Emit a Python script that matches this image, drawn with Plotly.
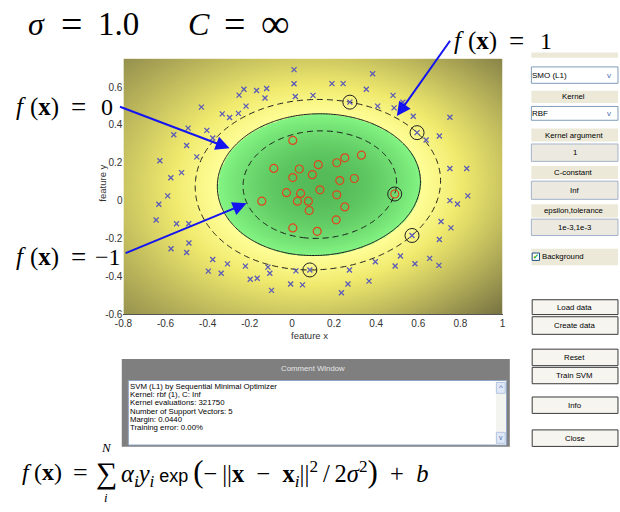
import numpy as np
import plotly.graph_objects as go

W, H = 620, 512

# ---------------- training data ----------------
# class +1 (crosses)
pos_x = [0.010, 0.010, 0.383, 0.190, 0.243, -0.251, -0.228, -0.168, -0.120, -0.128,
         0.016, 0.100, 0.353, -0.430, -0.218, -0.331, -0.296, -0.254, 0.480, 0.407,
         0.485, 0.275, 0.576, 0.750, -0.493, -0.561, -0.404, -0.376, -0.500, -0.452,
         -0.627, 0.594, 0.637, 0.700, -0.524, -0.575, -0.590, -0.632, -0.645, -0.548,
         -0.490, 0.750, 0.830, 0.750, 0.786, 0.835, 0.708, 0.755, 0.700, 0.570,
         -0.489, -0.574, -0.500, -0.376, -0.306, -0.397, -0.336, -0.221, -0.114, -0.105,
         -0.198, -0.165, -0.097, -0.006, 0.019, 0.050, 0.085, 0.273, 0.266, 0.235,
         0.366, 0.396, 0.490, 0.515, 0.584, 0.654, 0.698, 0.527]
pos_y = [0.692, 0.617, 0.670, 0.618, 0.618, 0.557, 0.588, 0.582, 0.592, 0.542,
         0.550, 0.556, 0.588, 0.494, 0.499, 0.458, 0.439, 0.461, 0.556, 0.499,
         0.490, 0.520, 0.446, 0.440, 0.383, 0.348, 0.371, 0.331, 0.291, 0.231,
         0.211, 0.359, 0.320, 0.341, 0.148, 0.121, 0.025, -0.019, -0.102, -0.122,
         -0.122, 0.170, 0.170, 0.000, -0.018, 0.025, -0.110, -0.144, -0.205, -0.184,
         -0.224, -0.254, -0.274, -0.311, -0.334, -0.372, -0.383, -0.346, -0.351, -0.383,
         -0.415, -0.410, -0.474, -0.440, -0.371, -0.445, -0.366, -0.366, -0.440, -0.486,
         -0.425, -0.323, -0.345, -0.292, -0.333, -0.305, -0.342, 0.520]

# class -1 (circles)
neg_x = [0.004, -0.086, 0.035, 0.004, 0.097, 0.125, 0.213, 0.251, 0.330, 0.227,
         0.296, 0.133, -0.026, 0.041, 0.026, 0.078, 0.213, -0.143, 0.082, 0.251,
         0.210, 0.004, 0.120, 0.488]
neg_y = [0.318, 0.170, 0.167, 0.122, 0.137, 0.190, 0.200, 0.226, 0.240, 0.106,
         0.117, 0.057, 0.042, 0.038, -0.003, -0.003, 0.031, -0.003, -0.052, -0.033,
         -0.101, -0.144, -0.162, 0.035]

# support vectors and their labels
sv_x = [0.275, 0.594, 0.488, 0.570, 0.085]
sv_y = [0.520, 0.359, 0.035, -0.184, -0.366]
sv_lab = [1, 1, -1, 1, 1]
sigma = 1.0

# ---------------- decision function ----------------
S = np.column_stack([sv_x, sv_y])
yl = np.array(sv_lab, dtype=float)
d2 = ((S[:, None, :] - S[None, :, :]) ** 2).sum(-1)
K = np.exp(-d2 / (2 * sigma ** 2))
n = len(S)
A = np.zeros((n + 1, n + 1))
A[:n, :n] = K
A[:n, n] = 1.0
A[n, :n] = 1.0
rhs = np.concatenate([yl, [0.0]])
sol = np.linalg.solve(A, rhs)
beta, b = sol[:n], sol[n]   # beta_i = alpha_i * y_i

gx = np.linspace(-0.8, 1.0, 241)
gy = np.linspace(-0.6, 0.75, 181)
GX, GY = np.meshgrid(gx, gy)
G = np.stack([GX, GY], -1)
gd2 = ((G[..., None, :] - S[None, None, :, :]) ** 2).sum(-1)
F = (np.exp(-gd2 / (2 * sigma ** 2)) * beta).sum(-1) + b

fmin, fmax = float(F.min()), float(F.max())
p0 = (0 - fmin) / (fmax - fmin)
cscale = [
    [0.0, "rgb(84,186,88)"],
    [max(p0 - 1e-4, 0.0), "rgb(132,246,132)"],
    [p0, "rgb(255,255,152)"],
    [p0 + 0.2 * (1 - p0), "rgb(240,234,110)"],
    [1.0, "rgb(118,114,66)"],
]

fig = go.Figure()
fig.add_trace(go.Heatmap(x=gx, y=gy, z=F, colorscale=cscale, zmin=fmin, zmax=fmax,
                         zsmooth="best", showscale=False, hoverinfo="skip"))
for lev, dash in [(-1, "6px,4px"), (0, "solid"), (1, "6px,4px")]:
    fig.add_trace(go.Contour(x=gx, y=gy, z=F, showscale=False, hoverinfo="skip",
                             contours=dict(start=lev, end=lev, size=1, coloring="none"),
                             line=dict(color="#1a1a1a", width=1, dash=dash)))

fig.add_trace(go.Scatter(x=pos_x, y=pos_y, mode="markers",
                         marker=dict(symbol="x-thin", size=5, color="#5a5ab8",
                                     line=dict(width=1.3, color="#5a5ab8"))))
fig.add_trace(go.Scatter(x=neg_x, y=neg_y, mode="markers",
                         marker=dict(symbol="circle-open", size=8, color="#e0461e",
                                     line=dict(width=1.2))))
fig.add_trace(go.Scatter(x=sv_x, y=sv_y, mode="markers",
                         marker=dict(symbol="circle-open", size=14, color="#202020",
                                     line=dict(width=1))))

# ---------------- layout helpers ----------------
def px(x):
    return x / W


def py(y):
    return 1 - y / H


shapes = []
ann = []


def rect(x0, y0, x1, y1, fill, line=None, lw=1):
    shapes.append(dict(type="rect", xref="paper", yref="paper",
                       x0=px(x0), x1=px(x1), y0=py(y1), y1=py(y0),
                       fillcolor=fill, layer="above",
                       line=dict(color=line or fill, width=lw if line else 0)))


def text(x, y, s, size=8, color="#000", fam="Liberation Sans", xa="center", ya="middle"):
    xx = x - 2 if xa == "left" else x
    ann.append(dict(x=px(xx), y=py(y), xref="paper", yref="paper", text=s,
                    showarrow=False, xanchor=xa, yanchor=ya, borderpad=0,
                    font=dict(size=size, color=color, family=fam)))


SERIF = "Liberation Serif"


def math(x, y, s, size):
    # large serif glyphs sit a little right of their box centre
    text(x - 5, y, s, size=size, fam=SERIF)


def arrow(tx, ty, hx, hy):
    ann.append(dict(x=px(hx), y=py(hy), xref="paper", yref="paper", text=" ",
                    showarrow=True, ax=tx - hx, ay=ty - hy, axref="pixel", ayref="pixel",
                    arrowhead=2, arrowsize=1.4, arrowwidth=2, arrowcolor="#1414f0",
                    font=dict(size=2)))


# ---------------- control panel ----------------
BEIGE = "#ece9d8"
rect(532.7, 53, 621, 58.5, BEIGE)
dropdowns = [("SMO (L1)", 67.7, 84.3), ("RBF", 107.7, 121.7)]
for label, t, btm in dropdowns:
    rect(532.7, t, 621, btm, "#ffffff", "#7f9db9")
    text(534, (t + btm) / 2, label, size=8, xa="left")
    text(612, (t + btm) / 2, "v", size=8, color="#4d6ab0")

labels = [("Kernel", 91.7, 104.3), ("Kernel argument", 130, 143.3),
          ("C-constant", 168, 181), ("epsilon,tolerance", 206.7, 220)]
for label, t, btm in labels:
    rect(532.7, t, 621, btm, BEIGE)
    text(576, (t + btm) / 2, label, size=7.8)

edits = [("1", 145.7, 163.3), ("Inf", 183.3, 201.7), ("1e-3,1e-3", 221.7, 238.3)]
for label, t, btm in edits:
    rect(532.7, t, 621, btm, "#ebe9e0", "#a3b3c9")
    text(577, (t + btm) / 2, label, size=7.8)

rect(532.7, 251.7, 621, 268.3, BEIGE)
rect(533.5, 256, 541, 263.5, "#ffffff", "#1c5180")
text(537.3, 259.7, "✔", size=7, color="#21a121")
text(544, 260, "Background", size=7.8, xa="left")

buttons = [("Load data", 303.3, 318.3), ("Create data", 320.5, 338.3),
           ("Reset", 353.3, 370), ("Train SVM", 371.7, 388.3),
           ("Info", 401.7, 418.3), ("Close", 435, 451.7)]
for label, t, btm in buttons:
    rect(533.5, t, 621, btm, "#f6f5f0", "#3a3a3a")
    text(577, (t + btm) / 2, label, size=7.8)

# ---------------- comment window ----------------
rect(115, 363.3, 510.7, 452, "#7f7f7f")
text(310, 372.7, "Comment Window", size=7.8, color="#e6e6e6")
rect(121.7, 385, 507.3, 450.3, "#ffffff", "#8ea5c2")
rect(496.5, 386, 506.5, 449.5, "#f3f3ef")
rect(497, 387, 506, 398, "#dfe8f7", "#b5c5e0")
rect(497, 437.5, 506, 448.5, "#dfe8f7", "#b5c5e0")
text(501.5, 392.5, "^", size=8, color="#4d6ab0")
text(501.5, 442.5, "v", size=7, color="#4d6ab0")
log_lines = ["SVM (L1) by Sequential Minimal Optimizer",
             "Kernel: rbf (1), C: Inf",
             "Kernel evaluations: 321750",
             "Number of Support Vectors: 5",
             "Margin: 0.0440",
             "Training error: 0.00%"]
for k, s in enumerate(log_lines):
    text(124, 391 + 8.3 * k, s, size=7.8, xa="left")

# ---------------- math annotations ----------------
# header: sigma = 1.0   C = inf
for s, cx, sz in [("<i>σ</i>", 33, 32), ("=", 68.3, 38), ("1.0", 117, 33),
                  ("<i>C</i>", 199, 32), ("=", 235, 38), ("∞", 277, 40)]:
    math(cx, 24, s, sz)


def fx_label(x0, y, rhs, rhs_cx):
    math(x0 + 9, y, "<i>f</i>", 25)
    math(x0 + 33, y, "(<b>x</b>)", 25)
    math(x0 + 68, y, "=", 27)
    math(x0 + rhs_cx, y, rhs, 24)


fx_label(455, 41, "1", 98)
fx_label(8, 108, "0", 97)
fx_label(8, 260, "−1", 98)

arrow(450.7, 39.3, 395.5, 117.5)
arrow(113.3, 107.7, 225, 150)
arrow(119.3, 256.3, 242.3, 205.7)

# decision function formula
FY = 478
math(23, FY, "<i>f</i>", 24)
math(45, FY, "(<b>x</b>)", 24)
math(78, FY, "=", 26)
math(104, FY + 1, "∑", 30)
math(104, 453, "<i>N</i>", 13)
math(104, 503, "<i>i</i>", 13)
BIG_L = "<span style='font-size:31px'>(</span>"
BIG_R = "<span style='font-size:31px'>)</span>"
EXP = "<span style='font-family:Liberation Sans;font-size:18px'>exp</span>"
rest = ("<i>α<sub>i</sub>y<sub>i</sub></i>\u2009" + EXP + "\u2009" + BIG_L +
        "−\u2009||<b>x</b>\u2002−\u2002<b>x</b><sub><i>i</i></sub>||<sup>2</sup>\u2009/\u20092<i>σ</i><sup>2</sup>" +
        BIG_R + "\u2002+\u2002<i>b</i>")
text(115, FY, rest, size=24.5, fam=SERIF, xa="left")

# axis titles
text(306, 339, "feature x", size=9.5, color="#333")
ann.append(dict(x=px(88), y=py(185), xref="paper", yref="paper", text="feature y",
                showarrow=False, textangle=-90, font=dict(size=9.5, color="#333",
                                                          family="Liberation Sans")))

fig.update_layout(
    width=W, height=H, margin=dict(l=0, r=0, t=0, b=0),
    paper_bgcolor="white", plot_bgcolor="white", showlegend=False,
    shapes=shapes, annotations=ann,
    xaxis=dict(domain=[116.7 / W, 503.3 / W], range=[-0.8, 1.0], tickvals=[-0.8, -0.6, -0.4, -0.2, 0, 0.2, 0.4, 0.6, 0.8, 1],
               ticktext=["-0.8", "-0.6", "-0.4", "-0.2", "0", "0.2", "0.4", "0.6", "0.8", "1"],
               showgrid=False, zeroline=False, showline=True, linecolor="#555", linewidth=1,
               ticks="", tickfont=dict(size=10, color="#333", family="Liberation Sans")),
    yaxis=dict(domain=[1 - 318 / H, 1 - 59.3 / H], range=[-0.6, 0.75],
               tickvals=[-0.6, -0.4, -0.2, 0, 0.2, 0.4, 0.6],
               ticktext=["-0.6", "-0.4", "-0.2", "0", "0.2", "0.4", "0.6"],
               showgrid=False, zeroline=False, showline=False,
               ticks="", tickfont=dict(size=10, color="#333", family="Liberation Sans")),
)

fig.write_html("out.html")
